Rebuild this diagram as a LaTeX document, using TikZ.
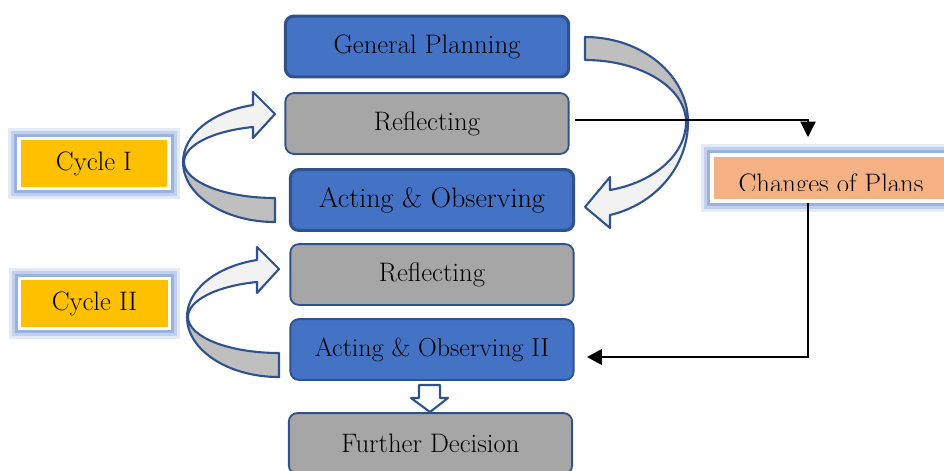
\documentclass[tikz,border=0pt]{standalone}
\usetikzlibrary{arrows.meta}

\definecolor{boxblue}{HTML}{4472C4}
\definecolor{edgeblue}{HTML}{2F528F}
\definecolor{boxgrey}{HTML}{A6A6A6}
\definecolor{cycleyellow}{HTML}{FFC000}
\definecolor{planorange}{HTML}{F4B183}
\definecolor{glowblue}{HTML}{8FAADC}
\definecolor{backgrey}{HTML}{BFBFBF}
\definecolor{frontgrey}{HTML}{F2F2F2}

\begin{document}
\begin{tikzpicture}[
  x=0.025cm, y=-0.025cm,
  stage/.style={draw=edgeblue, rounded corners=6pt, minimum width=7.08cm,
    minimum height=1.52cm, inner sep=0pt, font=\fontsize{19}{22}\selectfont},
  act/.style={stage, fill=boxblue, line width=1.3pt},
  refl/.style={stage, fill=boxgrey, line width=1.3pt},
  main/.style={line width=2.2pt},
  glow/.style={draw=white, line width=2.8pt,
    preaction={draw=glowblue!25, line width=15pt},
    preaction={draw=glowblue!55, line width=11pt},
    preaction={draw=glowblue!90, line width=7pt}},
  cyc/.style={glow, fill=cycleyellow, minimum width=3.75cm, minimum height=1.25cm,
    inner sep=0pt, font=\fontsize{19}{22}\selectfont},
  band/.style={draw=edgeblue, line width=1.5pt, line join=round},
]

\useasboundingbox (0,0) rectangle (944,470);
\clip (0,0) rectangle (944,470);

% stages
\node [act, main] (plan) at (427,46.5) {General Planning};
\node [refl] (refl1) at (427,123.5) {Reflecting};
\node [act, main] (act1) at (432,200) {\fontsize{20}{22}\selectfont Acting \& Observing};
\node [refl] (refl2) at (432,274.5) {Reflecting};
\node [act] (act2) at (432,349.5) {\fontsize{18.5}{22}\selectfont Acting \& Observing II};
\node [refl] (decide) at (430.5,443.5) {Further Decision};

% cycles
\node [cyc] (cyc1) at (94,163.5) {Cycle I};
\node [cyc] (cyc2) at (94.5,303.5) {Cycle II};

% changes of plans
\node [glow, fill=planorange, minimum width=6.2cm, minimum height=1.15cm] (plans) at (836,178) {};
\begin{scope}
\clip (712,157) rectangle (944,190);
\node [anchor=base, inner sep=0pt, font=\fontsize{19}{22}\selectfont] (plantext) at (831,192) {Changes of Plans};
\end{scope}

% big curved arrow
\path [band, fill=backgrey] (585,37) .. controls (641.9,37) and (688,75.1) .. (688,122)
  -- (686,122) .. controls (686,87.8) and (640.8,60) .. (585,60) -- cycle;
\path [band, fill=frontgrey] (688,122) .. controls (688,166) and (655.8,204.3) .. (610,215)
  -- (610,228) -- (585,207) -- (610,177) -- (610,190)
  .. controls (654.7,182.1) and (686,154) .. (686,122) -- cycle;

% cycle arrows
\path [band, fill=backgrey] (275,222) .. controls (224.2,222) and (183,195.1) .. (183,162)
  -- (184,162) .. controls (184,181.9) and (224.8,198) .. (275,198) -- cycle;
\path [band, fill=frontgrey] (183,162) .. controls (183,135) and (211.9,111.4) .. (253,105)
  -- (253,92) -- (275,114) -- (253,138) -- (253,127)
  .. controls (212.4,131) and (184,145.4) .. (184,162) -- cycle;

\begin{scope}[shift={(4,155)}]
\path [band, fill=backgrey] (275,222) .. controls (224.2,222) and (183,195.1) .. (183,162)
  -- (184,162) .. controls (184,181.9) and (224.8,198) .. (275,198) -- cycle;
\path [band, fill=frontgrey] (183,162) .. controls (183,135) and (211.9,111.4) .. (253,105)
  -- (253,92) -- (275,114) -- (253,138) -- (253,127)
  .. controls (212.4,131) and (184,145.4) .. (184,162) -- cycle;
\end{scope}

% down arrow
\path [band, fill=white] (419,385) -- (440,385) -- (440,398) -- (448,398)
  -- (430,412) -- (411,398) -- (419,398) -- cycle;

% connectors
\coordinate (r1out) at (575,120);
\coordinate (plansin) at (808,137);
\coordinate (plansout) at (808,203);
\coordinate (act2in) at (587,357);
\draw [line width=0.8pt, -{Triangle[length=11pt,width=11pt]}] (r1out) -| (plansin);
\draw [line width=1.4pt, -{Triangle[length=10.5pt,width=11pt]}] (plansout) |- (act2in);

\end{tikzpicture}
\end{document}
